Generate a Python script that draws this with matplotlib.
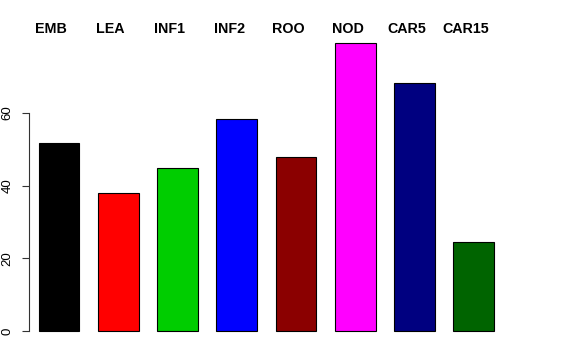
import numpy as np
import matplotlib
matplotlib.use('Agg')
import matplotlib.pyplot as plt

# Данные графика
categories = ['EMB', 'LEA', 'INF1', 'INF2', 'ROO', 'NOD', 'CAR5', 'CAR15']
values = [51.7, 38.0, 44.9, 58.4, 47.9, 79.3, 68.3, 24.5]
colors = ['#000000', '#FF0000', '#00CD00', '#0000FF', '#8B0000', '#FF00FF', '#000080', '#006400']
yticks = [0, 20, 40, 60]

plt.rcParams['font.family'] = ['Liberation Sans', 'DejaVu Sans']

fig = plt.figure(figsize=(5.76, 3.6), dpi=100)
ax = fig.add_axes([0.0503, 0.0483, 0.905, 0.8647])

x = np.arange(len(categories))
ax.bar(x, values, width=0.69, color=colors, edgecolor='black', linewidth=0.8)

# Подписи сверху
for xi, name in zip(x, categories):
    ax.text(xi - 0.13, 83.1, name, ha='center', va='center',
            fontsize=10.3, fontweight='bold', clip_on=False)

ax.set_xlim(-0.507, 8.29)
ax.set_ylim(-3.2, 82.5)
ax.set_yticks(yticks)
ax.set_yticklabels([str(t) for t in yticks], rotation=90, va='center', fontsize=9.5)
ax.tick_params(axis='y', length=5, width=0.8, pad=6, color='#333333', labelcolor='black')
ax.set_xticks([])

for side in ['top', 'right', 'bottom']:
    ax.spines[side].set_visible(False)
ax.spines['left'].set_bounds(0, 60)
ax.spines['left'].set_linewidth(0.8)
ax.spines['left'].set_color('#333333')

fig.savefig('out.png', dpi=100)
